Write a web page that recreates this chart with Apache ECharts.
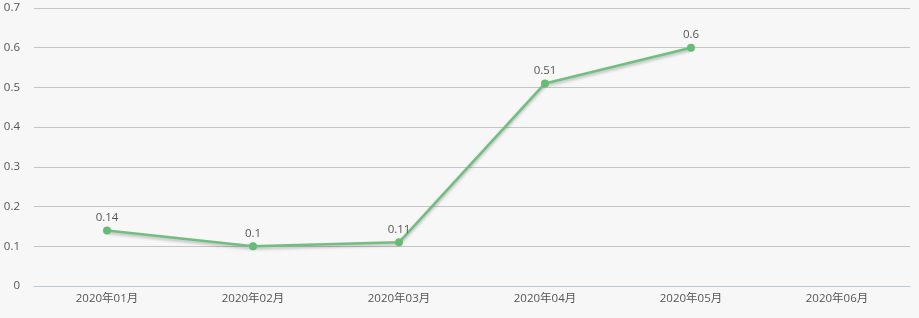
<!DOCTYPE html>
<html><head><meta charset="utf-8">
<script src="https://cdn.jsdelivr.net/npm/echarts@6/dist/echarts.min.js"></script>
<style>html,body{margin:0;padding:0;background:#f7f7f7}#c{width:919px;height:318px}</style>
</head><body><div id="c"></div>
<script>
const categories = ['2020年01月','2020年02月','2020年03月','2020年04月','2020年05月','2020年06月'];
const values = [0.14, 0.1, 0.11, 0.51, 0.6, null];
const chart = echarts.init(document.getElementById('c'));
chart.setOption({
  backgroundColor: '#f7f7f7',
  textStyle: {fontFamily: '"Open Sans", "Noto Sans CJK SC", sans-serif'},
  grid: {left: 34, right: 9, top: 8, bottom: 32},
  xAxis: {
    type: 'category', data: categories, boundaryGap: true,
    axisLine: {lineStyle: {color: '#b8c8da'}},
    axisTick: {lineStyle: {color: '#b8c8da'}, length: 4},
    axisLabel: {color: '#555', fontSize: 11.5, margin: 7}
  },
  yAxis: {
    type: 'value', min: 0, max: 0.7, interval: 0.1,
    axisLine: {show: false}, axisTick: {show: false},
    axisLabel: {color: '#555', fontSize: 11.5, margin: 14},
    splitLine: {lineStyle: {color: '#c4c4c4'}}
  },
  series: [{
    type: 'line', data: values, symbol: 'circle', symbolSize: 8,
    itemStyle: {color: '#66bb77'},
    lineStyle: {color: '#70bf80', width: 2.5, shadowColor: 'rgba(0,0,0,0.25)', shadowBlur: 3, shadowOffsetY: 2},
    label: {show: true, position: 'top', color: '#555', fontSize: 11.5, distance: 3}
  }]
});
</script></body></html>
